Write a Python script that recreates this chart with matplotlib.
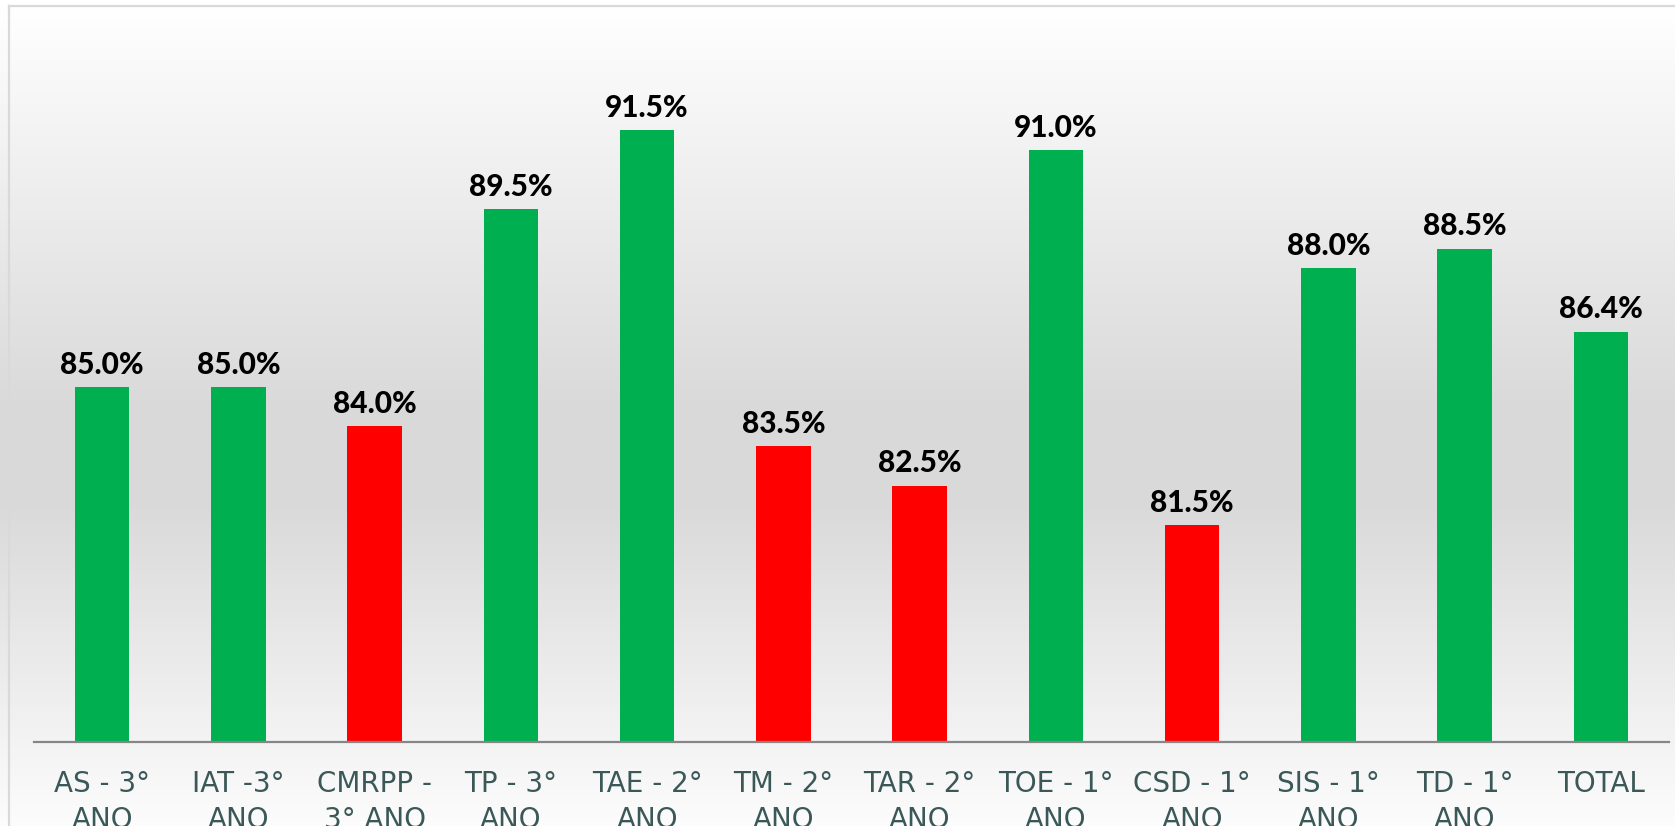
import numpy as np
import matplotlib
matplotlib.use('Agg')
import matplotlib.pyplot as plt
from matplotlib.colors import LinearSegmentedColormap
from matplotlib.lines import Line2D

# data
cursos = ['AS - 3°\nANO', 'IAT -3°\nANO', 'CMRPP -\n3° ANO', 'TP - 3°\nANO',
          'TAE - 2°\nANO', 'TM - 2°\nANO', 'TAR - 2°\nANO', 'TOE - 1°\nANO',
          'CSD - 1°\nANO', 'SIS - 1°\nANO', 'TD - 1°\nANO', 'TOTAL']
valores = [85.0, 85.0, 84.0, 89.5, 91.5, 83.5, 82.5, 91.0, 81.5, 88.0, 88.5, 86.4]
abaixo = [False, False, True, False, False, True, True, False, True, False, False, False]

verde = '#00B050'
vermelho = '#FF0000'
cores = [vermelho if a else verde for a in abaixo]

W, H = 1675, 826
fig = plt.figure(figsize=(W / 100, H / 100), dpi=100)
fig.patch.set_facecolor('white')

# vertical gradient background (white -> gray -> white)
stops = [(0.0, '#ffffff'), (6 / H, '#ffffff'), (240 / H, '#e9e9e9'),
         (400 / H, '#dadada'), (500 / H, '#d9d9d9'), (620 / H, '#e6e6e6'),
         (740 / H, '#f3f3f3'), (1.0, '#fcfcfc')]
cmap = LinearSegmentedColormap.from_list('fundo', stops)
bg = fig.add_axes([0, 0, 1, 1], zorder=0)
grad = np.linspace(0, 1, 826).reshape(-1, 1)
bg.imshow(grad, aspect='auto', cmap=cmap, extent=[0, 1, 0, 1], origin='upper')
bg.set_axis_off()

# chart border (only left and top visible in the crop)
fig.add_artist(Line2D([8.5 / W, 8.5 / W], [0, 1 - 5.5 / H], color='#d9d9d9', lw=1.6))
fig.add_artist(Line2D([8.5 / W, 1], [1 - 5.5 / H, 1 - 5.5 / H], color='#d9d9d9', lw=1.6))

# plot area
left, right = 34 / W, 1669 / W
bottom = (H - 742) / H
ymin, ymax = 76, 94
px_per = 39.46
top = (H - (742 - (ymax - ymin) * px_per)) / H
ax = fig.add_axes([left, bottom, right - left, top - bottom], zorder=1)
ax.patch.set_alpha(0)

x = np.arange(len(cursos))
barras = ax.bar(x, [v - ymin for v in valores], bottom=ymin, width=0.4, color=cores)
ax.bar_label(barras, labels=['%.1f%%' % v for v in valores], padding=6,
             fontsize=21.5, fontweight='black', color='black', family='Lato')

ax.set_xlim(-0.5, len(cursos) - 0.5)
ax.set_ylim(ymin, ymax)
ax.set_xticks(x)
ax.set_xticklabels(cursos, fontsize=20, color='#3a5858', linespacing=1.38)
ax.tick_params(axis='x', length=0, pad=20)
ax.set_yticks([])
for s in ['top', 'left', 'right']:
    ax.spines[s].set_visible(False)
ax.spines['bottom'].set_color('#868686')
ax.spines['bottom'].set_linewidth(1.6)

fig.savefig('out.png', dpi=100)
